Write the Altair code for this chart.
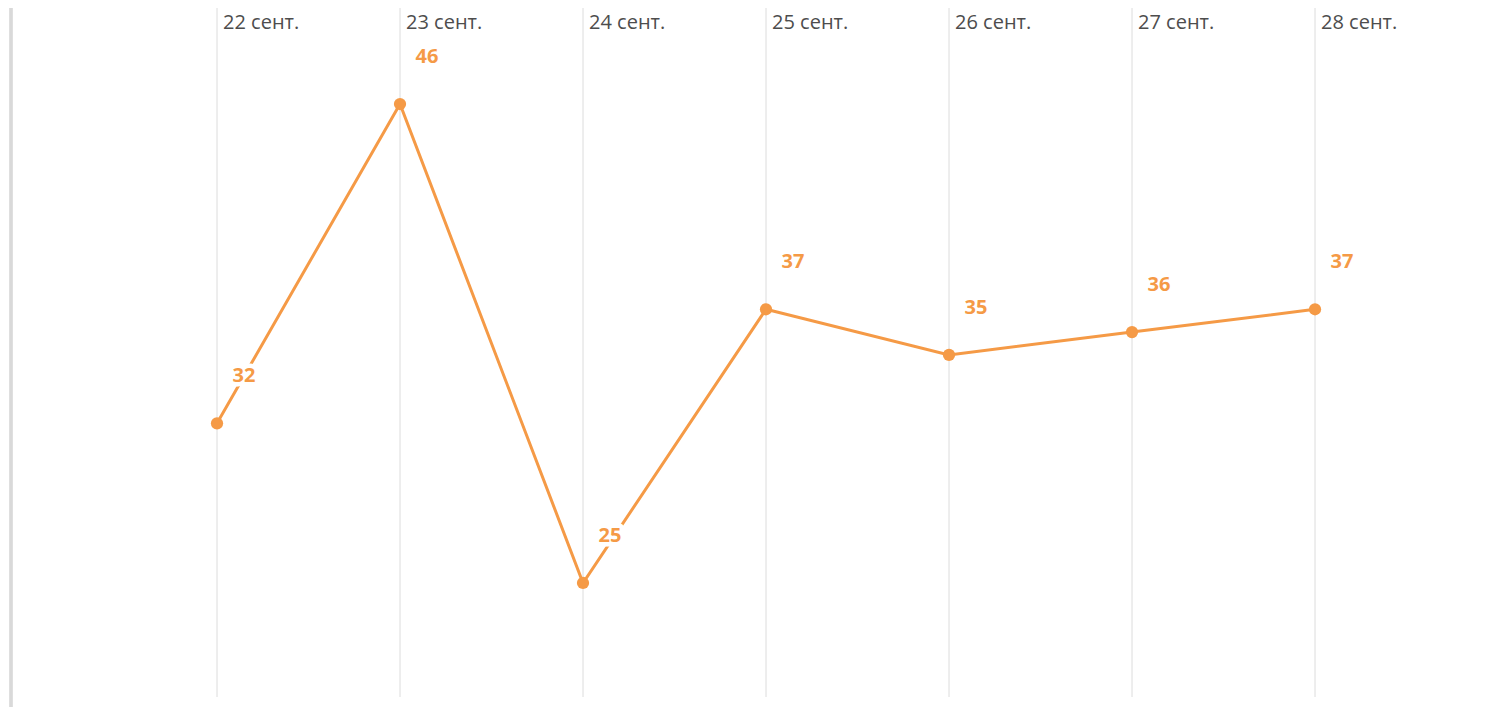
import altair as alt
import pandas as pd

dates = ["22 сент.", "23 сент.", "24 сент.", "25 сент.", "26 сент.", "27 сент.", "28 сент."]
values = [32, 46, 25, 37, 35, 36, 37]

df = pd.DataFrame({"i": list(range(len(dates))), "date": dates, "value": values})

ORANGE = "#f59a46"
xscale = alt.Scale(domain=[-1.1257, 6.907], nice=False, zero=False)
yscale = alt.Scale(domain=[20, 50.21], nice=False, zero=False)

base = alt.Chart(df)

grid = base.mark_rule(color="#e8e8e8", strokeWidth=1.5).encode(
    x=alt.X("i:Q", scale=xscale, axis=None),
    y=alt.value(0),
    y2=alt.value(689),
)

border = base.mark_rule(color="#d9d9d9", strokeWidth=2.5).encode(
    x=alt.value(0), y=alt.value(0), y2=alt.value(699)
)

labels = base.mark_text(
    align="left", baseline="middle", dx=6, fontSize=20, font="Open Sans", color="#4d4d4d"
).encode(
    x=alt.X("i:Q", scale=xscale, axis=None),
    y=alt.value(15),
    text="date:N",
)

line = base.mark_line(color=ORANGE, strokeWidth=3).encode(
    x=alt.X("i:Q", scale=xscale, axis=None),
    y=alt.Y("value:Q", scale=yscale, axis=None),
)

pts = base.mark_circle(color=ORANGE, size=150, opacity=1).encode(
    x=alt.X("i:Q", scale=xscale, axis=None),
    y=alt.Y("value:Q", scale=yscale, axis=None),
)

halo = base.mark_text(
    align="center", baseline="middle", dx=27, dy=-47, fontSize=20, font="Open Sans",
    fontWeight="bold", color="white", stroke="white", strokeWidth=9, strokeJoin="round",
).encode(
    x=alt.X("i:Q", scale=xscale, axis=None),
    y=alt.Y("value:Q", scale=yscale, axis=None),
    text="value:Q",
)

vlabels = base.mark_text(
    align="center", baseline="middle", dx=27, dy=-47, fontSize=20, font="Open Sans",
    fontWeight="bold", color=ORANGE,
).encode(
    x=alt.X("i:Q", scale=xscale, axis=None),
    y=alt.Y("value:Q", scale=yscale, axis=None),
    text="value:Q",
)

chart = alt.layer(grid, border, labels, line, pts, halo, vlabels).properties(
    width=1470,
    height=689,
    autosize=alt.AutoSizeParams(type="none"),
    padding={"left": 3, "top": 0, "right": 0, "bottom": 10},
).configure(background="white").configure_view(stroke=None)

chart.save("out.html", embed_options={"renderer": "svg", "actions": False})
